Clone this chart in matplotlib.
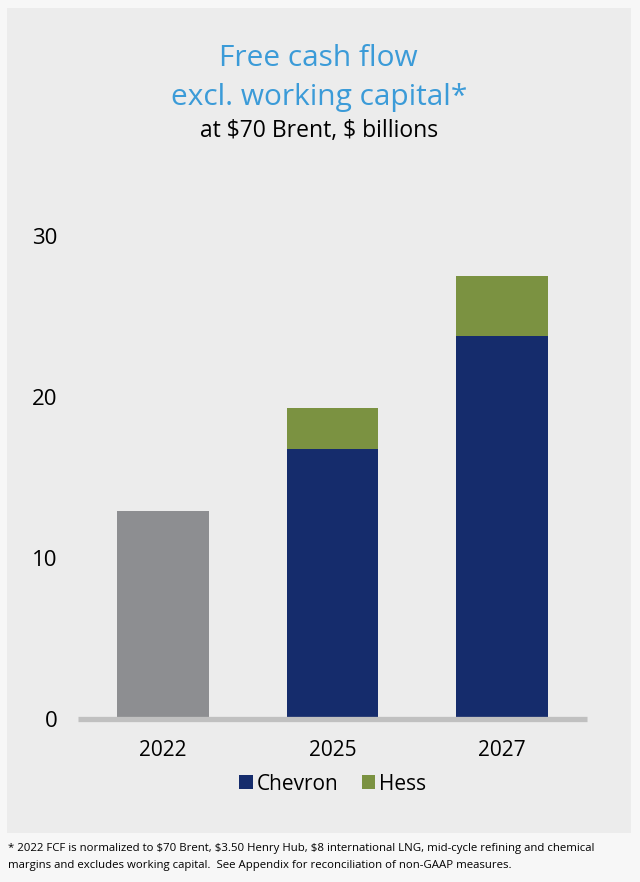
import matplotlib.pyplot as plt
from matplotlib.patches import Patch, Rectangle

plt.rcParams['font.family'] = ['Open Sans', 'DejaVu Sans']
plt.rcParams['text.parse_math'] = False

# data ($ billions)
years = ['2022', '2025', '2027']
base_2022 = [12.9, 0, 0]
chevron = [0, 16.8, 23.8]
hess = [0, 2.5, 3.7]
yticks = [0, 10, 20, 30]

grey = '#8d8e91'
blue = '#152c6c'
green = '#7b9241'
title_blue = '#3b9bd8'

fig = plt.figure(figsize=(6.4, 8.82), dpi=100, facecolor='#f7f7f7')

# light grey panel behind the chart
fig.patches.append(Rectangle((7 / 640, 1 - 833 / 882), 624 / 640, 825 / 882,
                             transform=fig.transFigure, facecolor='#ececec',
                             edgecolor='none', zorder=-5))

ax = fig.add_axes([78 / 640, (882 - 719) / 882, 509 / 640, 515 / 882])
ax.set_facecolor('none')
ax.set_zorder(2)

x = range(len(years))
w = 0.54
ax.bar(x, base_2022, width=w, color=grey)
ax.bar(x, chevron, width=w, color=blue)
ax.bar(x, hess, width=w, bottom=chevron, color=green)

ax.set_xlim(-0.5, 2.5)
ax.set_ylim(0, 32)
ax.axhline(0, color='#c0c0c0', linewidth=3.8, clip_on=False, zorder=3,
           solid_capstyle='butt')

ax.set_yticks(yticks)
ax.set_xticks(list(x))
ax.set_xticklabels(years)
ax.tick_params(axis='y', length=0, pad=15, labelsize=16)
ax.tick_params(axis='x', length=0, pad=15, labelsize=15)
for s in ax.spines.values():
    s.set_visible(False)

# titles
fig.text(0.498, 1 - 58 / 882, 'Free cash flow', ha='center', va='center',
         fontsize=21.5, color=title_blue)
fig.text(0.498, 1 - 97 / 882, 'excl. working capital*', ha='center', va='center',
         fontsize=21.5, color=title_blue)
fig.text(0.498, 1 - 131 / 882, 'at $70 Brent, $ billions', ha='center', va='center',
         fontsize=16.5, color='black')

handles = [Patch(facecolor=blue, label='Chevron'), Patch(facecolor=green, label='Hess')]
fig.legend(handles=handles, loc='center', bbox_to_anchor=(333 / 640, 1 - 784 / 882),
           ncol=2, frameon=False, fontsize=15, handlelength=0.65, handleheight=0.65,
           handletextpad=0.2, columnspacing=1.1, borderpad=0)

fig.text(8 / 640, 1 - 857 / 882,
         '* 2022 FCF is normalized to $70 Brent, $3.50 Henry Hub, $8 international LNG, '
         'mid-cycle refining and chemical\nmargins and excludes working capital.  '
         'See Appendix for reconciliation of non-GAAP measures.',
         ha='left', va='center', fontsize=8.2, linespacing=1.7, color='black')

fig.savefig('out.png', dpi=100, facecolor=fig.get_facecolor())
